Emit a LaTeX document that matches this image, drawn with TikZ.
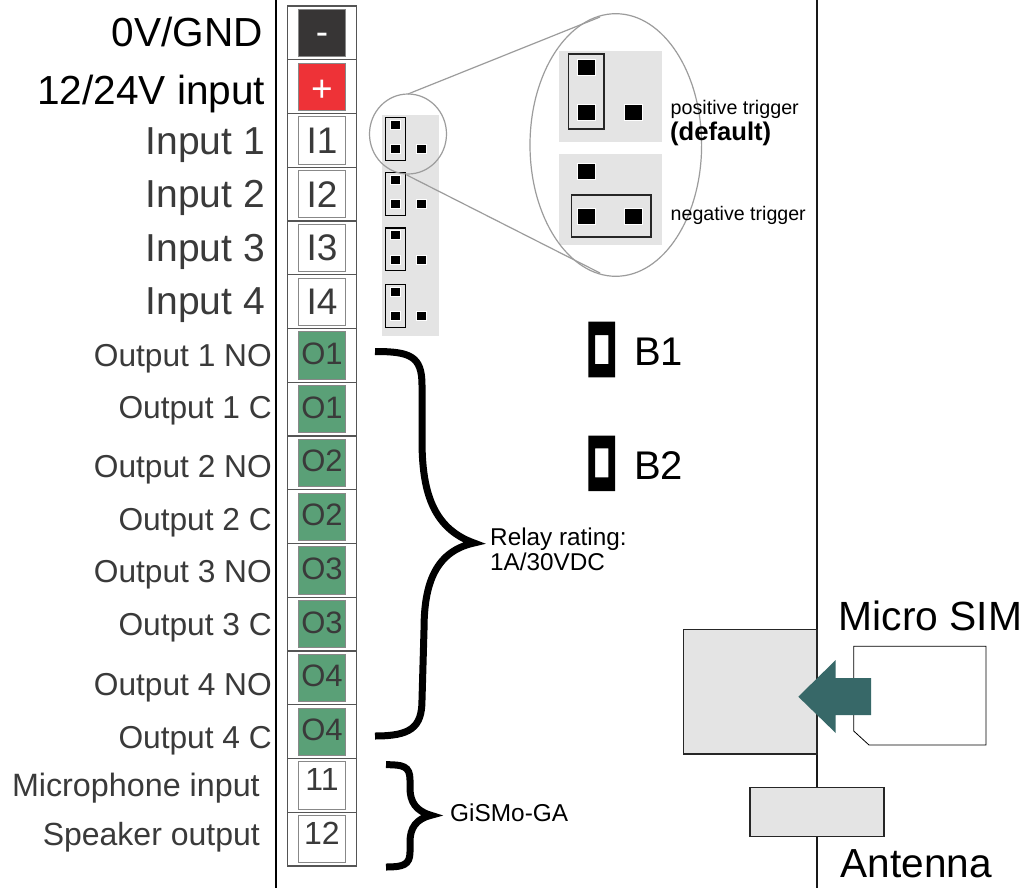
\documentclass[tikz,border=0pt]{standalone}
\usepackage{fontspec}
\setmainfont{Liberation Sans}
\definecolor{txt}{HTML}{3A3A3A}
\definecolor{fr}{HTML}{555555}
\definecolor{pale}{HTML}{E4E4E4}
\definecolor{lens}{HTML}{9C9C9C}
\definecolor{grn}{HTML}{5AA077}
\definecolor{redb}{HTML}{EE3237}
\definecolor{drk}{HTML}{373535}
\definecolor{teal}{HTML}{376868}
\newcommand{\fsz}[1]{\fontsize{#1}{#1}\selectfont}
\tikzset{
 x=1pt,y=-1pt,
 lab/.style={inner sep=0,anchor=base east,text=txt},
 labw/.style={inner sep=0,anchor=base west,text=txt},
 labb/.style={lab,text=black},
 free/.style={inner sep=0,anchor=base west,text=black},
 cell/.style={draw=fr,line width=1.2pt,fill=white},
 inner/.style={draw=fr!70,line width=1pt},
 pin/.style={fill=black,draw=white,line width=1pt},
 jump/.style={draw=black,line width=1.1pt},
 lensline/.style={draw=lens,line width=1.2pt},
 brace/.style={draw=black,line width=7pt,line join=miter,miter limit=12},
}
\begin{document}
\begin{tikzpicture}
\useasboundingbox (0,0) rectangle (1028,888);
\fill[white] (0,0) rectangle (1028,888);
% board edges
\draw[black,line width=1.5pt] (276,0) -- (276,888);
\draw[black!90,line width=1.7pt] (816.7,0) -- (816.7,888);
% terminal strip
\foreach \i/\nm/\col/\tc/\sz/\bl in {
 0/-/drk/white/37/35,
 1/+/redb/white/37/38,
 2/I1/white/txt/37/36.5,
 3/I2/white/txt/37/36.5,
 4/I3/white/txt/37/36.5,
 5/I4/white/txt/37/36.5,
 6/O1/grn/txt/31/32.5,
 7/O1/grn/txt/31/32.5,
 8/O2/grn/txt/31/32.5,
 9/O2/grn/txt/31/32.5,
 10/O3/grn/txt/31/32.5,
 11/O3/grn/txt/31/32.5,
 12/O4/grn/txt/31/32.5,
 13/O4/grn/txt/31/32.5,
 14/11/white/txt/32/28.5,
 15/12/white/txt/32/28.5}{
 \pgfmathsetmacro{\ty}{6+53.75*\i}
 \draw[cell] (287.3,\ty) rectangle (356.7,\ty+53.75);
 \draw[inner,fill=\col] (298.2,\ty+3.4) rectangle (345.6,\ty+50.6);
 \node[inner sep=0,anchor=base,text=\tc] (term\i) at (322,\ty+3.4+\bl) {\fsz{\sz}\nm};
}
% left labels
\node[labb] (l0) at (263,47) {\fsz{40.6}0V/GND};
\node[labb] (l1) at (265.5,105) {\fsz{40.6}12/24V input};
\node[labw] (l2) at (145.5,154) {\fsz{39}Input 1};
\node[labw] (l3) at (145.5,207) {\fsz{39}Input 2};
\node[labw] (l4) at (145.5,261) {\fsz{39}Input 3};
\node[labw] (l5) at (145.5,314) {\fsz{39}Input 4};
\node[lab] (l6) at (272,366) {\fsz{31.7}Output 1 NO};
\node[lab] (l7) at (272,418) {\fsz{31.7}Output 1 C};
\node[lab] (l8) at (272,477) {\fsz{31.7}Output 2 NO};
\node[lab] (l9) at (272,530) {\fsz{31.7}Output 2 C};
\node[lab] (l10) at (272,582) {\fsz{31.7}Output 3 NO};
\node[lab] (l11) at (272,635) {\fsz{31.7}Output 3 C};
\node[lab] (l12) at (272,695) {\fsz{31.7}Output 4 NO};
\node[lab] (l13) at (272,748) {\fsz{31.7}Output 4 C};
\node[lab] (l14) at (260,796) {\fsz{32.3}Microphone input};
\node[lab] (l15) at (260,845) {\fsz{32}Speaker output};
% small jumpers
\fill[pale] (382,115) rectangle (439,335.7);
\foreach \j/\y in {a/117.7,b/172.7,c/228,d/284.7}{
 \draw[jump,fill=pale] (385.7,\y) rectangle (405.3,\y+42.5);
 \draw[pin] (390.6,\y+2.6) rectangle (400.4,\y+11.6);
 \draw[pin] (390.6,\y+27) rectangle (400.4,\y+36);
 \draw[pin] (416.5,\y+27) rectangle (426,\y+36);
}
% magnified jumpers
\fill[pale] (559,51) rectangle (662,142);
\fill[pale] (559,154) rectangle (662,245);
\draw[jump,draw=black!85] (568.7,54) rectangle (604,129);
\draw[pin] (577,60) rectangle (595,76);
\draw[pin] (577,104.3) rectangle (595,120.3);
\draw[pin] (624,104.3) rectangle (642,120.3);
\draw[pin] (577,163.5) rectangle (595,179.5);
\draw[jump,draw=black!85] (571.3,195) rectangle (651,237);
\draw[pin] (577,208) rectangle (595,224);
\draw[pin] (624,208) rectangle (642,224);
% lens
\draw[lensline] (408,134) ellipse [x radius=38.5,y radius=40];
\draw[lensline] (615.8,145) ellipse [x radius=85.8,y radius=131.3];
\coordinate (lensA) at (408,94);
\coordinate (lensB) at (600,17);
\coordinate (lensC) at (406.7,175);
\coordinate (lensD) at (600,273);
\draw[lensline] (lensA) -- (lensB);
\draw[lensline] (lensC) -- (lensD);
\node[free] (pos) at (670.5,115) {\fsz{19.7}positive trigger};
\node[free] (def) at (670,141) {\fsz{25.6}\bfseries (default)};
\node[free] (neg) at (670.5,220) {\fsz{19.6}negative trigger};
% B1 B2 jumpers
\fill[black,even odd rule] (588.3,321.7) rectangle (615,377.3) (595,335) rectangle (608.3,364);
\fill[black,even odd rule] (588.3,435.7) rectangle (615,491) (595,448.3) rectangle (608.3,477.3);
\node[free] (b1) at (634,365.5) {\fsz{40}B1};
\node[free] (b2) at (634,479) {\fsz{40}B2};
% braces
\draw[brace] (375,351.5) .. controls (410,351.5) and (422,356) .. (422,385)
 -- (422,440) .. controls (422,490) and (432,528) .. (474,543)
 .. controls (432,552) and (424,590) .. (424,630)
 -- (422,700) .. controls (422,728) and (410,736) .. (375,736);
\draw[brace] (386,764.7) .. controls (403,764.7) and (410,766) .. (410,780)
 -- (410,788) .. controls (410,802) and (416,811) .. (431,815.3)
 .. controls (416,819) and (410,828) .. (410,842)
 -- (410,852) .. controls (410,865) and (403,867) .. (386,867);
\node[free] (relay1) at (490,545) {\fsz{24.3}Relay rating:};
\node[free] (relay2) at (490,570) {\fsz{24.3}1A/30VDC};
\node[free] (gismo) at (450,821) {\fsz{24.4}GiSMo-GA};
% SIM
\draw[draw=black!85,line width=1.2pt,fill=pale] (683.7,629.7) rectangle (817,754);
\draw[draw=black!85,line width=1.2pt,fill=pale] (750,787.7) rectangle (884,836.7);
\draw[draw=black,line width=.8pt,fill=white] (853.7,646.3) -- (986,646.3) -- (986,745) -- (869,745) -- (853.7,731) -- cycle;
\fill[teal] (798.3,696.7) -- (835.7,660) -- (835.7,678) -- (871,678) -- (871,715) -- (835.7,715) -- (835.7,733) -- cycle;
\node[free] (sim) at (838.5,630) {\fsz{40.8}Micro SIM};
\node[free] (ant) at (840.5,877) {\fsz{40.6}Antenna};
\end{tikzpicture}
\end{document}
